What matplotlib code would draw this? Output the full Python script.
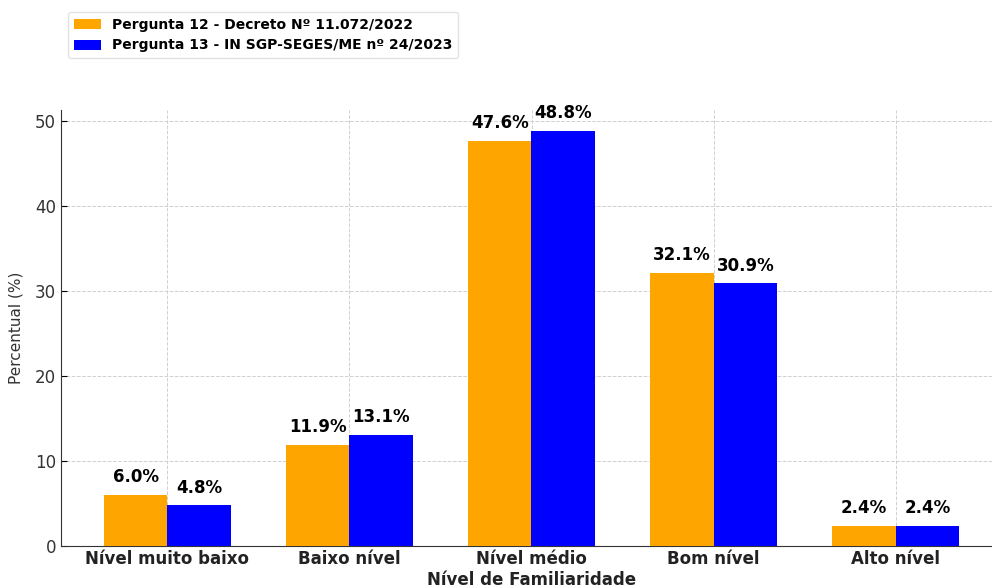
import matplotlib.pyplot as plt
import numpy as np

# Data
categories = ["Nível muito baixo", "Baixo nível", "Nível médio", "Bom nível", "Alto nível"]
pergunta_12 = [6.0, 11.9, 47.6, 32.1, 2.4]
pergunta_13 = [4.8, 13.1, 48.8, 30.9, 2.4]
label_12 = "Pergunta 12 - Decreto Nº 11.072/2022"
label_13 = "Pergunta 13 - IN SGP-SEGES/ME nº 24/2023"

W, H = 992, 587
fig = plt.figure(figsize=(W / 100, H / 100), dpi=100)
# axes placed in pixels (right side runs slightly past the figure edge)
ax = fig.add_axes([61 / W, 41 / H, 941 / W, 436 / H])

x = np.arange(len(categories))
width = 0.35

bars_12 = ax.bar(x - width / 2, pergunta_12, width, color="orange", label=label_12, zorder=3)
bars_13 = ax.bar(x + width / 2, pergunta_13, width, color="blue", label=label_13, zorder=3)

# Value labels above the bars
for bars in (bars_12, bars_13):
    for b in bars:
        h = b.get_height()
        ax.text(b.get_x() + b.get_width() / 2, h + 1, "{:.1f}%".format(h),
                ha="center", va="bottom", fontsize=12, fontweight="bold", zorder=4)

ax.set_xticks(x)
ax.set_xticklabels(categories, fontsize=12, fontweight="bold", color="#222222")
ax.tick_params(axis="y", labelsize=12, labelcolor="#333333", direction="in", length=4)
ax.tick_params(axis="x", direction="in", length=4, pad=3)
ax.set_xlabel("Nível de Familiaridade", fontsize=12, fontweight="bold", color="#222222", labelpad=2)
ax.set_ylabel("Percentual (%)", fontsize=11, color="#333333", labelpad=8)

ax.grid(True, linestyle="--", color="#d0d0d0", linewidth=0.7, zorder=0)
ax.spines["top"].set_visible(False)
ax.spines["right"].set_visible(False)
ax.spines["left"].set_color("#333333")
ax.spines["bottom"].set_color("#333333")

fig.legend(loc="upper left", bbox_to_anchor=(68 / W, 1 - 12 / H), borderaxespad=0,
           prop={"weight": "bold", "size": 10}, frameon=True, edgecolor="#dddddd")

fig.savefig("out.png", dpi=100)
